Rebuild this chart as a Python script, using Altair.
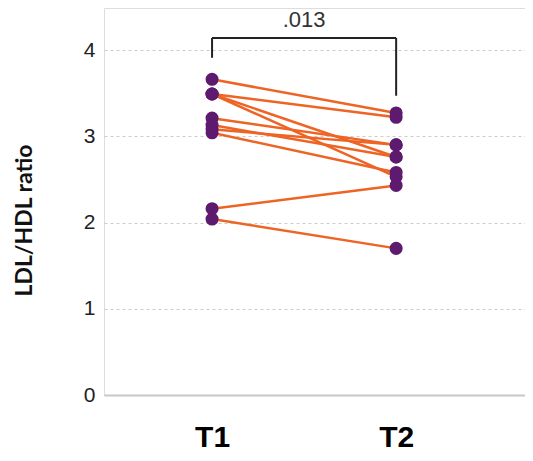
import altair as alt
import pandas as pd

# Data
subjects = list(range(1, 11))
t1_values = [3.66, 3.49, 3.49, 3.49, 3.21, 3.13, 3.08, 3.04, 2.16, 2.04]
t2_values = [3.27, 3.22, 2.76, 2.53, 2.90, 2.76, 2.90, 2.58, 2.43, 1.70]
time_labels = ["T1", "T2"]
p_value_label = ".013"

rows = []
for s, a, b in zip(subjects, t1_values, t2_values):
    rows.append({"subject": s, "time": 1, "value": a})
    rows.append({"subject": s, "time": 2, "value": b})
df = pd.DataFrame(rows)

xscale = alt.Scale(domain=[0.413, 2.70], nice=False, zero=False)
yscale = alt.Scale(domain=[0, 4.487], nice=False, zero=True)

x_axis = alt.Axis(
    values=[1, 2],
    labelExpr="datum.value == 1 ? 'T1' : 'T2'",
    title=None,
)
y_axis = alt.Axis(
    values=[0, 1, 2, 3, 4],
    format="d",
    title="LDL/HDL ratio",
)


def X(field):
    return alt.X(field, type="quantitative", scale=xscale, axis=x_axis)


def Y(field):
    return alt.Y(field, type="quantitative", scale=yscale, axis=y_axis)


base = alt.Chart(df)

lines = base.mark_line(color="#ee6424", strokeWidth=2.5).encode(
    x=X("time"),
    y=Y("value"),
    detail="subject:N",
)

points = base.mark_circle(color="#5e1a6e", opacity=1, size=170).encode(
    x=X("time"),
    y=Y("value"),
)

bracket_df = pd.DataFrame(
    [
        {"time": 1, "x2": 2, "value": 4.14, "y2": 4.14},
        {"time": 1, "x2": 1, "value": 3.91, "y2": 4.14},
        {"time": 2, "x2": 2, "value": 3.47, "y2": 4.14},
    ]
)
bracket = alt.Chart(bracket_df).mark_rule(color="#222222", strokeWidth=2).encode(
    x=X("time"),
    x2="x2:Q",
    y=Y("value"),
    y2="y2:Q",
)

text_df = pd.DataFrame([{"time": 1.5, "value": 4.27, "label": p_value_label}])
ptext = alt.Chart(text_df).mark_text(
    font="Liberation Sans", fontSize=22, color="#333333", baseline="alphabetic", align="center"
).encode(
    x=X("time"),
    y=Y("value"),
    text="label:N",
)

chart = (
    alt.layer(lines, points, bracket, ptext)
    .properties(
        width=421,
        height=387,
        autosize=alt.AutoSizeParams(type="none"),
        padding={"left": 96, "top": 0, "right": 0, "bottom": 58},
    )
    .configure_view(stroke=None)
    .configure(background="#ffffff")
    .configure_axisX(
        ticks=False,
        grid=False,
        domain=True,
        domainColor="#c8c8c8",
        domainWidth=2,
        labelFont="Liberation Sans",
        labelFontWeight="bold",
        labelFontSize=30,
        labelColor="#000000",
        labelPadding=51,
        labelBaseline="alphabetic",
    )
    .configure_axisY(
        ticks=False,
        domain=False,
        grid=True,
        gridColor="#cccccc",
        gridDash=[3, 3],
        gridWidth=1,
        labelFont="Liberation Sans",
        labelFontSize=21,
        labelColor="#222222",
        labelPadding=9,
        titleFont="Lato",
        titleFontWeight="bold",
        titleFontSize=23,
        titleColor="#111111",
        titleAngle=270,
        titleX=-80,
        titleY=212,
        titleAlign="center",
        titleBaseline="middle",
    )
)

chart.save("out.html", embed_options={"renderer": "svg", "actions": False})
